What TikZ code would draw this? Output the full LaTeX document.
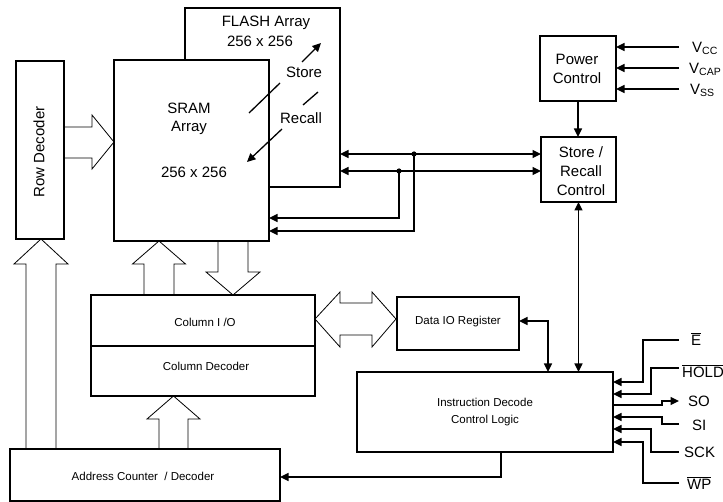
\documentclass[tikz,border=0pt]{standalone}
\usepackage{fontspec}
\setmainfont{Liberation Sans}
\usetikzlibrary{arrows.meta,calc}
\newcommand\hollowvert[6]{%
  \draw[hollow] (#1-#4,#2) -- (#1-#4,#6) -- (#1-#5,#6) -- (#1,#3) -- (#1+#5,#6) -- (#1+#4,#6) -- (#1+#4,#2);}
\begin{document}
\begin{tikzpicture}[x=1pt,y=-1pt,
  box/.style={draw, line width=1.4pt, inner sep=0pt, outer sep=0pt, fill=white},
  big/.style={font=\fontsize{15}{19}\selectfont},
  small/.style={font=\fontsize{11.5}{17}\selectfont},
  wire/.style={line width=1.3pt},
  conn/.style={line width=1.3pt, -{Triangle[length=8.5pt,width=8pt]}},
  bconn/.style={line width=1.3pt, {Triangle[length=8.5pt,width=8pt]}-{Triangle[length=8.5pt,width=8pt]}},
  hollow/.style={draw, line width=0.8pt, line join=miter},
  lbl/.style={big, inner sep=0pt, anchor=base west}]
\useasboundingbox (0,0) rectangle (723,502);

% boxes
\node[box, minimum width=155pt, minimum height=179pt] (flash) at (262.5,97.5) {};
\node[box, minimum width=155pt, minimum height=181pt] (sram) at (191.5,150.5) {};
\node[box, minimum width=48pt, minimum height=178pt] (rowdec) at (40,150) {};
\node[box, minimum width=76pt, minimum height=65pt] (power) at (578,68.5) {};
\node[box, minimum width=75pt, minimum height=65pt] (src) at (578.5,169.5) {};
\node[box, minimum width=224pt, minimum height=51pt] (colio) at (203,320.5) {};
\node[box, minimum width=224pt, minimum height=50pt] (coldec) at (203,371) {};
\node[box, minimum width=122pt, minimum height=53pt] (dataio) at (458,323.5) {};
\node[box, minimum width=256pt, minimum height=80pt] (instr) at (485,412) {};
\node[box, minimum width=270pt, minimum height=52pt] (addr) at (145,475) {};

% texts
\node[big, rotate=90] (rowdect) at (39,152) {Row Decoder};
\node[big] (flasht1) at (266,23) {FLASH Array};
\node[big] (flasht2) at (260,41) {256 x 256};
\node[big] (sramt1) at (189,108) {SRAM};
\node[big] (sramt2) at (189,128) {Array};
\node[big] (sramt3) at (194,172) {256 x 256};
\node[big] (store) at (304,72) {Store};
\node[big] (recall) at (301,118) {Recall};
\node[big, align=center] (powert) at (577,68.5) {Power\\Control};
\node[big, align=center] (srct) at (581,171) {Store /\\Recall\\Control};
\node[small] (coliot) at (205,322) {Column I /O};
\node[small] (coldect) at (206,366) {Column Decoder};
\node[small] (dataiot) at (458,322) {Data IO Register};
\node[small, align=center] (instrt) at (485,412.5) {Instruction Decode\\Control Logic};
\node[small] (addrt) at (143,476) {Address Counter\ \ / Decoder};

% store / recall arrows
\draw[wire] (249,113) -- (280,83);
\draw[conn] (302,62) -- (321,43);
\draw[wire] (303,105) -- (318,92);
\draw[conn] (282,129) -- (247,162);

% hollow bus arrows
\draw[hollow] (64,127) -- (92,127) -- (92,115) -- (114,142) -- (92,169) -- (92,158) -- (64,158);
\hollowvert{41}{449}{239}{15}{27}{264}
\hollowvert{159}{295}{241}{15}{26.5}{264}
\hollowvert{233}{241}{295}{15}{27}{272}
\hollowvert{173.5}{449}{396}{14.5}{26.5}{419}
\draw[hollow] (315,319) -- (340,292) -- (340,303) -- (372,303) -- (372,292) -- (396,319)
  -- (372,347) -- (372,335) -- (340,335) -- (340,347) -- cycle;

% power inputs
\coordinate (vcc0) at (679,47);
\coordinate (vcap0) at (679,68);
\coordinate (vss0) at (679,89);
\draw[conn] (vcc0) -- (vcc0 -| power.east);
\draw[conn] (vcap0) -- (vcap0 -| power.east);
\draw[conn] (vss0) -- (vss0 -| power.east);
\node[lbl] (vccl) at (692,52.4) {V\textsubscript{CC}};
\node[lbl] (vcapl) at (689,73.4) {V\textsubscript{CAP}};
\node[lbl] (vssl) at (690,94.4) {V\textsubscript{SS}};
\draw[conn] (power.south) -- (power.south |- src.north);

% store/recall buses
\coordinate (j1) at (414,154);
\coordinate (j2) at (399,171);
\coordinate (k1) at (414,231);
\coordinate (k2) at (399,218);
\draw[bconn] (j1 -| flash.east) -- (j1 -| src.west);
\draw[bconn] (j2 -| flash.east) -- (j2 -| src.west);
\draw[conn] (j1) -- (k1) -- (k1 -| sram.east);
\draw[conn] (j2) -- (k2) -- (k2 -| sram.east);
\fill (j1) circle[radius=2.6pt];
\fill (j2) circle[radius=2.6pt];

\draw[bconn] (src.south) -- (src.south |- instr.north);
\coordinate (d1) at (548,321);
\draw[bconn] (d1 -| dataio.east) -- (d1) -- (d1 |- instr.north);
\coordinate (a1) at (501,477);
\draw[conn] (a1 |- instr.south) -- (a1) -- (a1 -| addr.east);

% serial interface signals
\coordinate (e0) at (679,340);   \coordinate (e1) at (643,382);
\coordinate (h0) at (679,368);   \coordinate (h1) at (651,394);
\coordinate (so0) at (679,401);  \coordinate (so1) at (662,405);
\coordinate (si0) at (679,424);  \coordinate (si1) at (662,417);
\coordinate (sck0) at (679,452); \coordinate (sck1) at (651,429);
\coordinate (wp0) at (679,483);  \coordinate (wp1) at (643,442);
\draw[conn] (e0) -| (e1) -- (e1 -| instr.east);
\draw[conn] (h0) -| (h1) -- (h1 -| instr.east);
\draw[conn] (so1 -| instr.east) -- (so1) |- (so0);
\draw[conn] (si0) -| (si1) -- (si1 -| instr.east);
\draw[conn] (sck0) -| (sck1) -- (sck1 -| instr.east);
\draw[conn] (wp0) -| (wp1) -- (wp1 -| instr.east);
\node[lbl] (el) at (691,345.4) {$\overline{\hbox{E}}$};
\node[lbl] (holdl) at (682,377.4) {$\overline{\hbox{HOLD}}$};
\node[lbl] (sol) at (688,406.4) {SO};
\node[lbl] (sil) at (692,430.4) {SI};
\node[lbl] (sckl) at (684,457.4) {SCK};
\node[lbl] (wpl) at (687,489.4) {$\overline{\hbox{WP}}$};
\end{tikzpicture}
\end{document}
